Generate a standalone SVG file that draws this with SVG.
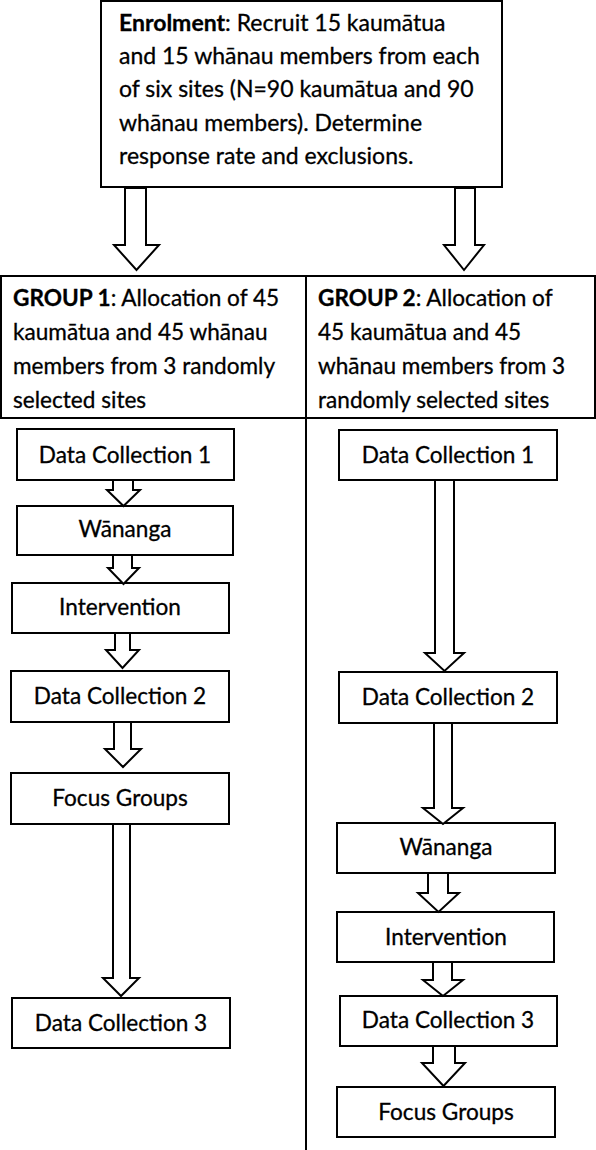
<svg xmlns="http://www.w3.org/2000/svg" width="596" height="1150" viewBox="0 0 596 1150">
<style>
.box{fill:#fff;stroke:#000;stroke-width:2}
.arr{fill:#fff;stroke:#000;stroke-width:2;stroke-linejoin:miter}
.line{stroke:#000;stroke-width:2;fill:none}
text{font-family:Lato,"Liberation Sans",sans-serif;font-size:23px;fill:#000;stroke:#000;stroke-width:0.3}
.g{font-size:22.6px}
.c{text-anchor:middle;font-size:22.6px}
.b{font-weight:bold}
</style>
<rect width="596" height="1150" fill="#fff"/>
<g id="enrolment">
<rect class="box" x="101" y="1" width="401" height="186"/>
<text x="119" y="31"><tspan class="b">Enrolment</tspan>: Recruit 15 kaumātua</text>
<text x="119" y="64">and 15 whānau members from each</text>
<text x="119" y="97">of six sites (N=90 kaumātua and 90</text>
<text x="119" y="131">whānau members). Determine</text>
<text x="119" y="164">response rate and exclusions.</text>
</g>
<g id="group1">
<rect class="box" x="1" y="276" width="305" height="142"/>
<text class="g" x="13" y="306"><tspan class="b">GROUP 1</tspan>: Allocation of 45</text>
<text class="g" x="13" y="340">kaumātua and 45 whānau</text>
<text class="g" x="13" y="374">members from 3 randomly</text>
<text class="g" x="13" y="408">selected sites</text>
</g>
<g id="group2">
<rect class="box" x="306" y="276" width="289" height="142"/>
<text class="g" x="318" y="306"><tspan class="b">GROUP 2</tspan>: Allocation of</text>
<text class="g" x="318" y="340">45 kaumātua and 45</text>
<text class="g" x="318" y="374">whānau members from 3</text>
<text class="g" x="318" y="408">randomly selected sites</text>
</g>
<line id="divider" class="line" x1="306" y1="418" x2="306" y2="1150"/>
<g id="g1-dc1"><rect class="box" x="17" y="429" width="217" height="51"/><text class="c" x="125" y="463">Data Collection 1</text></g>
<g id="g1-wananga"><rect class="box" x="17" y="506" width="216" height="49"/><text class="c" x="125" y="537">Wānanga</text></g>
<g id="g1-intervention"><rect class="box" x="12" y="583" width="217" height="50"/><text class="c" x="120" y="615">Intervention</text></g>
<g id="g1-dc2"><rect class="box" x="11" y="671" width="218" height="51"/><text class="c" x="120" y="704">Data Collection 2</text></g>
<g id="g1-focus"><rect class="box" x="11" y="773" width="218" height="51"/><text class="c" x="120" y="806">Focus Groups</text></g>
<g id="g1-dc3"><rect class="box" x="12" y="998" width="218" height="50"/><text class="c" x="121" y="1031">Data Collection 3</text></g>
<g id="g2-dc1"><rect class="box" x="339" y="430" width="218" height="50"/><text class="c" x="448" y="463">Data Collection 1</text></g>
<g id="g2-dc2"><rect class="box" x="339" y="672" width="218" height="51"/><text class="c" x="448" y="705">Data Collection 2</text></g>
<g id="g2-wananga"><rect class="box" x="337" y="823" width="218" height="50"/><text class="c" x="446" y="855">Wānanga</text></g>
<g id="g2-intervention"><rect class="box" x="337" y="912" width="217" height="50"/><text class="c" x="446" y="945">Intervention</text></g>
<g id="g2-dc3"><rect class="box" x="340" y="996" width="217" height="50"/><text class="c" x="448" y="1028">Data Collection 3</text></g>
<g id="g2-focus"><rect class="box" x="337" y="1087" width="218" height="50"/><text class="c" x="446" y="1120">Focus Groups</text></g>
<g id="connectors">
<path class="arr" d="M125 188 H146 V245 H159 L136.5 270 L114 245 H125 Z"/>
<path class="arr" d="M455 188 H475 V245 H484 L464 270 L444 245 H455 Z"/>
<path class="arr" d="M113 480 H133 V490 H140 L123.5 506 L107 490 H113 Z"/>
<path class="arr" d="M113 555 H132 V568 H139 L123.5 584 L108 568 H113 Z"/>
<path class="arr" d="M115 633 H130 V650 H139 L122.5 668 L106 650 H115 Z"/>
<path class="arr" d="M114 722 H131 V749 H141 L123 767 L105 749 H114 Z"/>
<path class="arr" d="M113 824 H130 V978 H139 L121 996 L103 978 H113 Z"/>
<path class="arr" d="M435 480 H454 V653 H464 L444.5 671 L425 653 H435 Z"/>
<path class="arr" d="M434 723 H452 V808 H463 L443 824 L423 808 H434 Z"/>
<path class="arr" d="M428 873 H448 V893 H459 L438.5 912 L418 893 H428 Z"/>
<path class="arr" d="M433 962 H452 V980 H463 L443 996 L423 980 H433 Z"/>
<path class="arr" d="M433 1046 H455 V1063 H465 L443.5 1086 L422 1063 H433 Z"/>
</g>
</svg>
